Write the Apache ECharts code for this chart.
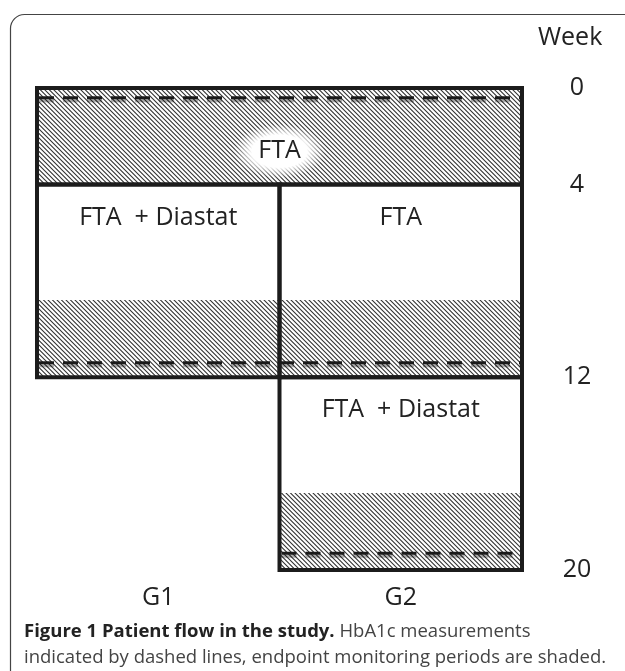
<!DOCTYPE html>
<html>
<head>
<meta charset="utf-8">
<script src="https://cdn.jsdelivr.net/npm/echarts@6/dist/echarts.min.js"></script>
<style>
  html, body { margin: 0; padding: 0; background: #fff; }
  #chart { width: 625px; height: 671px; }
</style>
</head>
<body>
<div id="chart"></div>
<script>
// groups along x (0..1 = G1, 1..2 = G2), weeks along y
const groups = ["G1", "G2"];
const weekTicks = [0, 4, 12, 20];

// treatment phases: group span [from, to], week span [start, end]
const phaseFrom = [0, 0, 1, 1];
const phaseTo = [2, 1, 2, 2];
const phaseStart = [0, 4, 4, 12];
const phaseEnd = [4, 12, 12, 20];
const phaseLabel = ["FTA", "FTA  + Diastat", "FTA", "FTA  + Diastat"];

// endpoint monitoring periods (shaded)
const shadeFrom = [0, 0, 1, 1];
const shadeTo = [2, 1, 2, 2];
const shadeStart = [0, 8.8, 8.8, 16.8];
const shadeEnd = [4, 12, 12, 20];

// HbA1c measurements (dashed lines)
const dashFrom = [0, 0, 1];
const dashTo = [2, 2, 2];
const dashWeek = [0.4, 11.4, 19.3];

const FONT = '"Open Sans", "Liberation Sans", sans-serif';

function hatch() {
  const n = 9;
  const c = document.createElement("canvas");
  c.width = n;
  c.height = n;
  const ctx = c.getContext("2d");
  ctx.fillStyle = "#fff";
  ctx.fillRect(0, 0, n, n);
  ctx.strokeStyle = "#333";
  ctx.lineWidth = 1.1;
  ctx.beginPath();
  for (let k = -2; k <= 2; k++) {
    const o = k * 4.5;
    ctx.moveTo(o - 2, -2);
    ctx.lineTo(o + n + 2, n + 2);
  }
  ctx.stroke();
  return c;
}
const pattern = { image: hatch(), repeat: "repeat" };

const phaseData = phaseFrom.map((f, i) => [f, phaseTo[i], phaseStart[i], phaseEnd[i]]);
const shadeData = shadeFrom.map((f, i) => [f, shadeTo[i], shadeStart[i], shadeEnd[i]]);
const dashData = dashFrom.map((f, i) => [f, dashTo[i], dashWeek[i]]);

function rectOf(api) {
  const p0 = api.coord([api.value(0), api.value(2)]);
  const p1 = api.coord([api.value(1), api.value(3)]);
  return { x: p0[0], y: p0[1], width: p1[0] - p0[0], height: p1[1] - p0[1] };
}

const chart = echarts.init(document.getElementById("chart"));

const option = {
  animation: false,
  grid: { left: 37, right: 103, top: 88, bottom: 101 },
  xAxis: {
    type: "value",
    min: 0,
    max: 2,
    axisLine: { show: false },
    axisTick: { show: false },
    splitLine: { show: false },
    axisLabel: {
      customValues: [0.5, 1.5],
      formatter: v => groups[Math.floor(v)],
      margin: 15,
      fontSize: 25,
      color: "#222",
      fontFamily: FONT
    }
  },
  yAxis: {
    type: "value",
    min: 0,
    max: 20,
    inverse: true,
    position: "right",
    axisLine: { show: false },
    axisTick: { show: false },
    splitLine: { show: false },
    axisLabel: {
      customValues: weekTicks,
      margin: 55,
      align: "center",
      fontSize: 25,
      color: "#222",
      fontFamily: FONT
    }
  },
  graphic: [
    {
      type: "rect",
      left: 8,
      top: 12,
      shape: { width: 660, height: 700, r: 14 },
      style: { fill: "none", stroke: "#444", lineWidth: 1.2 },
      z: 0
    },
    {
      type: "text",
      left: 538,
      top: 25,
      style: { text: "Week", fontSize: 25, fontFamily: FONT, fill: "#222" }
    },
    {
      type: "text",
      left: 24,
      top: 619,
      style: {
        text: "{b|Figure 1 Patient flow in the study.} HbA1c measurements\nindicated by dashed lines, endpoint monitoring periods are shaded.",
        fontSize: 18.5,
        fontFamily: FONT,
        fill: "#444",
        lineHeight: 26,
        rich: {
          b: { fontWeight: "bold", fontSize: 18.5, fontFamily: FONT, fill: "#222", lineHeight: 26 }
        }
      }
    }
  ],
  series: [
    {
      type: "custom",
      name: "shaded",
      z: 1,
      data: shadeData,
      renderItem: (params, api) => ({
        type: "rect",
        shape: rectOf(api),
        style: { fill: pattern, stroke: null }
      })
    },
    {
      type: "custom",
      name: "hba1c",
      z: 2,
      data: dashData,
      renderItem: (params, api) => {
        const p0 = api.coord([api.value(0), api.value(2)]);
        const p1 = api.coord([api.value(1), api.value(2)]);
        return {
          type: "line",
          shape: { x1: p0[0] + 2, y1: p0[1], x2: p1[0] - 2, y2: p1[1] },
          style: {
            stroke: "#1a1a1a",
            lineWidth: 3,
            lineDash: [15, 9],
            shadowColor: "rgba(0,0,0,0.35)",
            shadowOffsetY: 3,
            shadowBlur: 1
          }
        };
      }
    },
    {
      type: "custom",
      name: "phases",
      z: 3,
      data: phaseData,
      renderItem: (params, api) => {
        const r = rectOf(api);
        const wide = api.value(1) - api.value(0) > 1;
        const cx = r.x + r.width / 2;
        const ty = wide ? r.y + r.height / 2 + 15 : r.y + 33;
        const children = [
          {
            type: "rect",
            shape: r,
            style: { fill: "none", stroke: "#1c1c1c", lineWidth: 4 }
          }
        ];
        if (wide) {
          // soft white halo behind the label
          children.push({
            type: "circle",
            x: cx,
            y: ty,
            scaleX: 1.7,
            shape: { cx: 0, cy: 0, r: 27 },
            style: {
              fill: {
                type: "radial", x: 0.5, y: 0.5, r: 0.5,
                colorStops: [
                  { offset: 0, color: "rgba(255,255,255,1)" },
                  { offset: 0.6, color: "rgba(255,255,255,1)" },
                  { offset: 1, color: "rgba(255,255,255,0)" }
                ]
              }
            }
          });
        }
        children.push({
          type: "text",
          style: {
            text: phaseLabel[params.dataIndex],
            x: cx,
            y: ty,
            align: "center",
            verticalAlign: "middle",
            fontSize: 25,
            fontFamily: FONT,
            fill: "#222"
          }
        });
        return { type: "group", children: children };
      }
    }
  ]
};

chart.setOption(option);
</script>
</body>
</html>
